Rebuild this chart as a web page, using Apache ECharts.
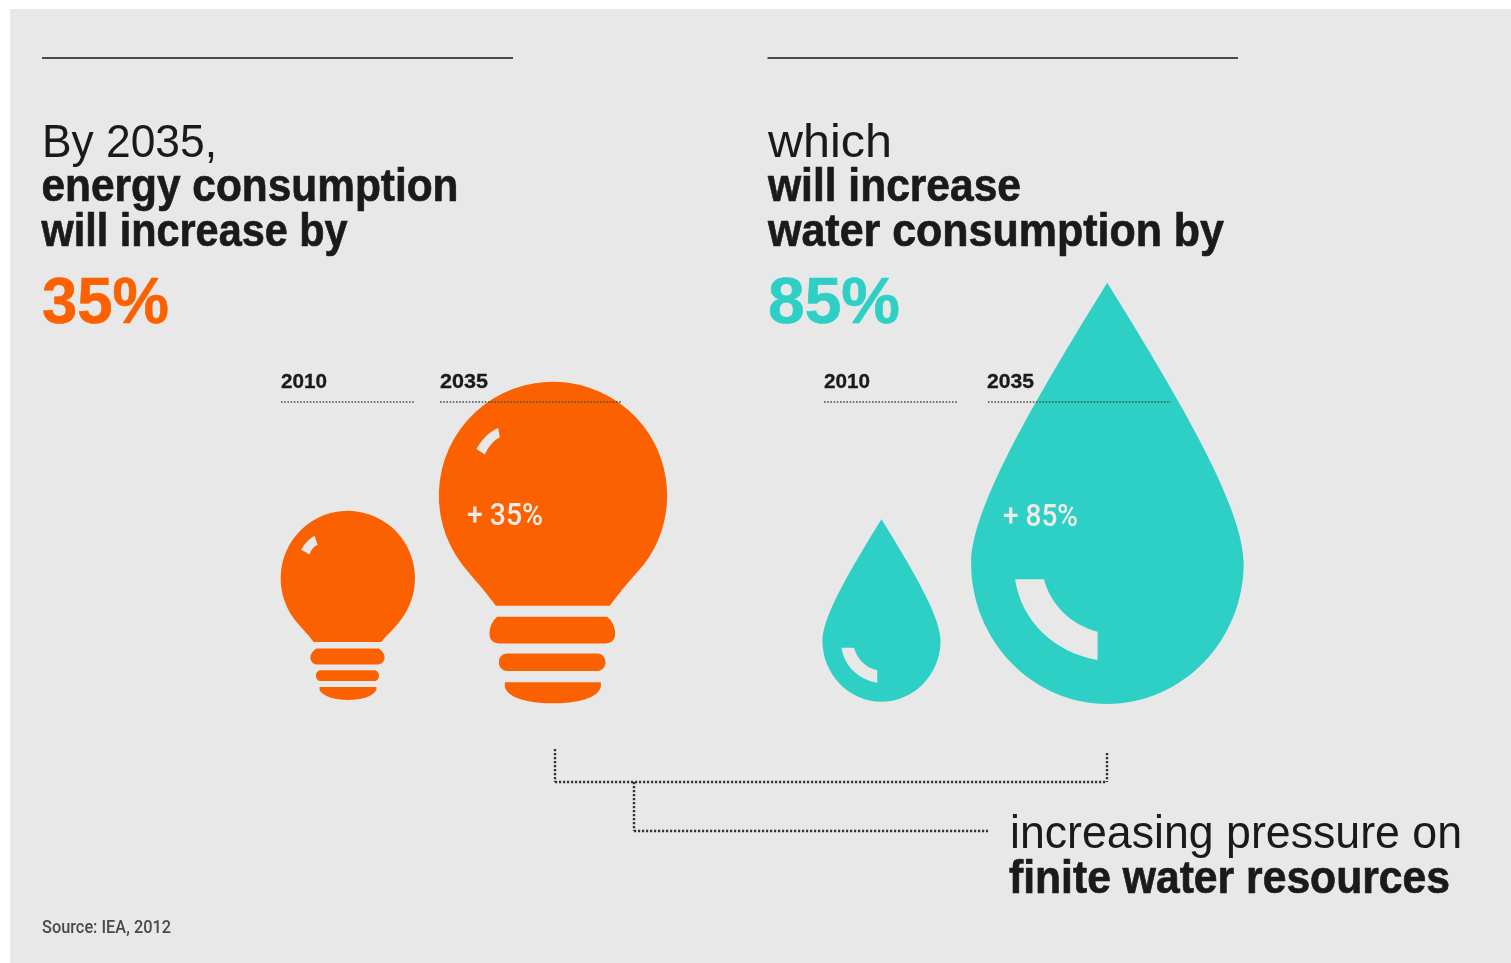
<!DOCTYPE html>
<html>
<head>
<meta charset="utf-8">
<style>html,body{margin:0;padding:0;background:#fff}#c{width:1511px;height:963px}</style>
<script src="https://cdn.jsdelivr.net/npm/echarts@6/dist/echarts.min.js"></script>
</head>
<body>
<div id="c"></div>
<script>
// Index values, 2010 = 100
const years = ['2010', '2035'];
const energyIndex = [100, 135];
const waterIndex = [100, 185];

const ORANGE = '#fb6100', TEAL = '#2ed0c6', INK = '#1b191a', PANEL = '#e8e8e8', RULE = '#4c4c4c', PALE = '#efece8';

// Truncated hidden scales: icon height grows with the value above these floors
const energyFloor = 50, waterFloor = 35;
const bulbTop = 381.7, dropTop = 282.7, bulbBase = 703.3, dropBase = 704;
const bulbPx = (bulbBase - bulbTop) / (energyIndex[1] - energyFloor);
const dropPx = (dropBase - dropTop) / (waterIndex[1] - waterFloor);

const BULB_SMALL = 'path://M130 830C112 805 95 790 72 762A203.5 203.5 0 1 1 395 762C375 790 355 805 335 830Z' +
  'M92 552L118 566C122 552 130 542 142 538L133 510C115 520 102 535 92 552Z' +
  'M138 850L328 850C338 858 345 866 345 876C345 890 335 898 322 898L142 898C130 898 120 890 120 876C120 866 128 858 138 850Z' +
  'M152 915L313 915C322 915 328 922 328 931C328 941 322 948 313 948L152 948C143 948 137 941 137 931C137 922 143 915 152 915Z' +
  'M148 966L320 966L320 975C310 995 275 1005 234 1005C195 1005 158 995 148 975Z';

const BULB_LARGE = 'path://M678 722C650 682 610 640 577 598A342.5 342.5 0 1 1 1122 598C1090 635 1050 680 1020 722Z' +
  'M620 250L645 267C655 245 670 225 690 215L685 187C660 198 640 215 620 250Z' +
  'M682 755L1012 755C1025 765 1036 785 1036 805C1036 825 1025 835 1005 835L690 835C670 835 659 825 659 805C659 785 670 765 682 755Z' +
  'M712 865L982 865C998 865 1007 878 1007 891C1007 905 998 918 982 918L712 918C696 918 687 905 687 891C687 878 696 865 712 865Z' +
  'M705 952L993 952L993 965C985 1000 920 1015 849 1015C780 1015 713 1000 705 965Z';

const DROP = 'path://M892 38C659 414 483 720 483 880C483 1110 665 1302 892 1302C1120 1302 1302 1110 1302 880C1302 720 1126 414 892 38Z' +
  'M615 928L702 928C720 1000 780 1065 863 1085L863 1170C740 1150 635 1060 615 928Z';

const measure = document.createElement('canvas').getContext('2d');

// Text helper: places by baseline and condenses the run to the given width
function label(text, x, baseline, size, weight, fill, width, family, thicken) {
  const font = `${weight} ${size}px ${family || '"Liberation Sans"'}`;
  measure.font = font;
  const scale = width ? width / measure.measureText(text).width : 1;
  const style = { text, font, fill, verticalAlign: 'middle', align: 'left' };
  if (thicken) {
    style.stroke = fill;
    style.lineWidth = thicken;
  }
  return { type: 'text', x, y: baseline - size * 0.27, scaleX: scale, z: 20, silent: true, style };
}
function rule(x1, y1, x2, y2, dash, w, color) {
  return {
    type: 'line', z: 15, silent: true,
    shape: { x1, y1, x2, y2 },
    style: { stroke: color || RULE, lineWidth: w, lineDash: dash || null }
  };
}
const pct = a => (a[1] - a[0]) + '%';
const DOT = [1.6, 1.6], LINK = [2.2, 1.8];
const HEAVY = 0.7;

const graphics = [
  { type: 'rect', z: -1, silent: true, shape: { x: 10, y: 9, width: 1501, height: 954 }, style: { fill: PANEL } },

  rule(42, 58, 513, 58, null, 2),
  rule(767.5, 58, 1238, 58, null, 2),

  label('By 2035,', 42, 157, 47, 400, INK, 175),
  label('energy consumption', 41.5, 201, 47, 700, INK, 417, null, HEAVY),
  label('will increase by', 41.5, 245.5, 47, 700, INK, 306, null, HEAVY),
  label(pct(energyIndex), 42, 323, 64, 700, ORANGE, 127, null, 0.6),

  label('which', 768, 157, 47, 400, INK, 124),
  label('will increase', 768, 201, 47, 700, INK, 253, null, HEAVY),
  label('water consumption by', 768, 245.5, 47, 700, INK, 456, null, HEAVY),
  label(pct(waterIndex), 768, 323, 64, 700, TEAL, 132, null, 0.6),

  label(years[0], 281, 388, 21, 700, INK, 46, null, 0.3),
  label(years[1], 440, 388, 21, 700, INK, 48, null, 0.3),
  label(years[0], 824, 388, 21, 700, INK, 46, null, 0.3),
  label(years[1], 987, 388, 21, 700, INK, 47, null, 0.3),
  rule(281, 402, 415, 402, DOT, 1.6),
  rule(440, 402, 621, 402, DOT, 1.6),
  rule(824, 402, 958, 402, DOT, 1.6),
  rule(988, 402, 1171, 402, DOT, 1.6),

  label('+ ' + pct(energyIndex), 467, 525.7, 32, 500, PALE, 76, 'Roboto'),
  label('+ ' + pct(waterIndex), 1003, 526.7, 32, 500, PALE, 75, 'Roboto'),

  rule(555, 749, 555, 782, LINK, 2.4, '#333'),
  rule(1107, 753, 1107, 782, LINK, 2.4, '#333'),
  rule(555, 782, 1107, 782, LINK, 2.4, '#333'),
  rule(634, 782, 634, 831, LINK, 2.4, '#333'),
  rule(634, 831, 988, 831, LINK, 2.4, '#333'),

  label('increasing pressure on', 1010, 848, 47, 400, INK, 452),
  label('finite water resources', 1009, 892.7, 47, 700, INK, 441, null, HEAVY),

  label('Source: IEA, 2012', 42, 933, 18, 500, '#4a4a4a', 129, 'Roboto')
];

// Icon height comes from the value above the floor, and its width follows the height
const bulbSize = v => {
  const h = (v - energyFloor) * bulbPx;
  return [h * 0.71, h];
};
const dropSize = v => {
  const h = (v - waterFloor) * dropPx;
  return [h * 0.647, h];
};

const hiddenX = gridIndex => ({ type: 'category', data: years, gridIndex, show: false });

const option = {
  animation: false,
  backgroundColor: '#fff',
  graphic: graphics,
  grid: [
    { left: 245.2, width: 410.4, top: bulbTop, height: bulbBase - bulbTop },
    { left: 768.55, width: 451.8, top: dropTop, height: dropBase - dropTop }
  ],
  xAxis: [hiddenX(0), hiddenX(1)],
  yAxis: [
    { type: 'value', gridIndex: 0, min: energyFloor, max: energyIndex[1], show: false },
    { type: 'value', gridIndex: 1, min: waterFloor, max: waterIndex[1], show: false }
  ],
  series: [
    {
      type: 'pictorialBar', xAxisIndex: 0, yAxisIndex: 0, silent: true,
      symbolPosition: 'end',
      itemStyle: { color: ORANGE },
      data: energyIndex.map((value, i) => ({
        value,
        symbol: i === 0 ? BULB_SMALL : BULB_LARGE,
        symbolSize: bulbSize(value),
        symbolOffset: [0, i === 0 ? -3.3 : 0]
      }))
    },
    {
      type: 'pictorialBar', xAxisIndex: 1, yAxisIndex: 1, symbol: DROP, silent: true,
      symbolPosition: 'end',
      itemStyle: { color: TEAL },
      data: waterIndex.map((value, i) => ({
        value, symbolSize: dropSize(value), symbolOffset: [0, i === 0 ? -2.3 : 0]
      }))
    }
  ]
};

echarts.init(document.getElementById('c'), null, { renderer: 'canvas' }).setOption(option);
</script>
</body>
</html>
